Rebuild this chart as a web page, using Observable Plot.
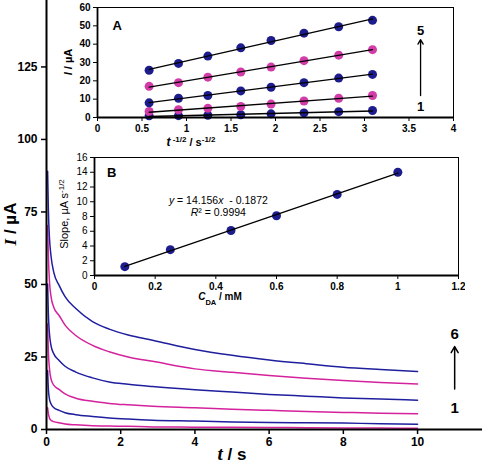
<!DOCTYPE html>
<html><head><meta charset="utf-8">
<script src="https://cdn.jsdelivr.net/npm/d3@7"></script>
<script src="https://cdn.jsdelivr.net/npm/@observablehq/plot@0.6"></script>
<style>
body{margin:0;background:#fff;font-family:Arial,"Liberation Sans",sans-serif;}
#wrap{position:relative;width:482px;height:463px;overflow:hidden;background:#fff;}
#wrap svg{position:absolute;background:transparent;}
</style></head><body><div id="wrap"></div>
<script>
// ---------- Main chronoamperograms ----------
const tMain = [0.03,0.05,0.08,0.12,0.2,0.34,0.5,0.79,1.24,1.69,2.2,2.86,4,5,6,7,8,9,10];
const curve1 = [7.5,5.5,4.0,3.2,2.7,2.3,1.9,1.6,1.3,1.2,1.1,0.9,0.8,0.75,0.7,0.6,0.55,0.5,0.45];
const curve2 = [20.3,14,10.5,8.9,7.5,6.6,5.8,5.1,4.5,4.0,3.6,3.2,2.9,2.6,2.4,2.3,2.2,2.0,1.8];
const curve3 = [36.4,27,21,17.5,15.2,13.8,12.3,10.8,9.7,9.0,8.5,8.0,7.5,7.0,6.6,6.2,5.9,5.6,5.4];
const curve4 = [50.2,40,33,29,26,23.8,21.8,19.8,17.8,16.4,15.6,14.8,13.7,12.9,12.1,11.5,10.9,10.5,10.1];
const curve5 = [70.3,60,51,46,42,39.3,36,32.4,29,26.8,25,23.5,20.9,19.7,18.6,17.7,16.9,16.2,15.7];
const curve6 = [89,76,66,60,54,49.7,45.8,41.7,37.2,34.6,32.6,30.8,27.6,25.6,24.0,22.7,21.5,20.7,20.0];
const mainNames = ["1","2","3","4","5","6"];
const mainColors = ["#d4229c","#1f1f9e","#d4229c","#1f1f9e","#d4229c","#1f1f9e"];
const mainXTicks = [0,2,4,6,8,10];
const mainYTicks = [0,25,50,75,100,125];
const mainAnnot = [{x:11, y:33, label:"6"},{x:11, y:7.3, label:"1"}];
const mainArrow = [{x:11, y1:14, y2:28.6}];

// ---------- Inset A ----------
const xA = [0.58,0.91,1.24,1.61,1.95,2.32,2.71,3.09];
const seriesA1 = [0.9,1.0,1.2,1.5,2.0,2.5,3.2,3.8];
const seriesA2 = [3.3,4.2,5.0,6.0,7.3,9.0,10.5,12.0];
const seriesA3 = [8.0,10.5,12.0,14.5,16.5,19.0,21.5,23.5];
const seriesA4 = [17.0,19.0,22.0,24.8,27.5,31.0,34.0,37.0];
const seriesA5 = [25.8,29.5,33.5,38.0,42.0,46.0,49.5,53.0];
const namesA = ["1","2","3","4","5"];
const colorsA = ["#1c1c8c","#d23ca8","#1c1c8c","#d23ca8","#1c1c8c"];
const xTicksA = [0,0.5,1,1.5,2,2.5,3,3.5,4];
const yTicksA = [0,10,20,30,40,50,60];
const annotA = [{x:3.63, y:47.5, label:"5"},{x:3.63, y:5.8, label:"1"}];
const arrowA = [{x:3.63, y1:12, y2:42.5}];

// ---------- Inset B ----------
const concB = [0.1,0.25,0.45,0.6,0.8,1.0];
const slopeB = [1.2,3.5,6.1,8.1,11.0,14.0];
const xTicksB = [0,0.2,0.4,0.6,0.8,1,1.2];
const yTicksB = [0,2,4,6,8,10,12,14,16];

const wrap = document.getElementById("wrap");

function addText(svg, x, y, parts, o = {}) {
  const t = d3.select(svg).append("text")
    .attr("x", x).attr("y", y)
    .attr("text-anchor", o.anchor || "middle")
    .attr("font-family", o.family || "Arial, 'Liberation Sans', sans-serif")
    .attr("font-size", o.size || 12)
    .attr("font-weight", o.weight || "normal")
    .attr("fill", "#000");
  if (o.rotate) t.attr("transform", `rotate(-90 ${x} ${y})`);
  for (const p of parts) {
    const s = t.append("tspan").text(p.text);
    if (p.italic) s.attr("font-style", "italic");
    if (p.family) s.attr("font-family", p.family);
    if (p.size) s.attr("font-size", p.size);
    if (p.weight) s.attr("font-weight", p.weight);
    if (p.sup) s.attr("baseline-shift", "super");
    if (p.sub) s.attr("baseline-shift", "sub");
  }
  return t;
}

// ---------- Main plot ----------
const mainRows = [];
[curve1,curve2,curve3,curve4,curve5,curve6].forEach((s,k) =>
  tMain.forEach((t,i) => mainRows.push({t, I: s[i], curve: mainNames[k]})));

const main = Plot.plot({
  width: 482, height: 463,
  marginLeft: 46, marginTop: 0, marginRight: 0, marginBottom: 34,
  style: {background: "transparent", fontFamily: "Arial, 'Liberation Sans', sans-serif", fontSize: "12px", fontWeight: "bold", color: "#000"},
  x: {domain: [0, 11.75]},
  y: {domain: [0, 147.9]},
  color: {domain: mainNames, range: mainColors},
  marks: [
    Plot.line(mainRows, {x: "t", y: "I", z: "curve", stroke: "curve", strokeWidth: 1.5, curve: "monotone-x"}),
    Plot.axisX({ticks: mainXTicks, tickSize: 5, tickPadding: 3, label: null, tickFormat: d => String(d), strokeWidth: 1.5}),
    Plot.axisY({ticks: mainYTicks, tickSize: 5, tickPadding: 4, label: null, tickFormat: d => String(d), strokeWidth: 1.5}),
    Plot.ruleX([0], {strokeWidth: 2}),
    Plot.ruleY([0], {strokeWidth: 2}),
    Plot.arrow(mainArrow, {x: "x", y1: "y1", y2: "y2", x1: "x", x2: "x", strokeWidth: 1.5, headLength: 7}),
    Plot.text(mainAnnot, {x: "x", y: "y", text: "label", fontSize: 15, fontWeight: "bold"})
  ]
});
wrap.appendChild(main);
main.style.left = "0px"; main.style.top = "0px";
addText(main, 16, 224, [{text: "I", italic: true, family: "'Liberation Serif', 'DejaVu Serif', serif"}, {text: " / µA"}], {rotate: true, size: 17, weight: "bold"});
addText(main, 232, 460, [{text: "t", italic: true, family: "'Liberation Serif', 'DejaVu Serif', serif", size: 19}, {text: " / s"}], {size: 17, weight: "bold"});

// ---------- Inset A ----------
const rowsA = [];
[seriesA1,seriesA2,seriesA3,seriesA4,seriesA5].forEach((s,k) =>
  xA.forEach((x,i) => rowsA.push({x, I: s[i], series: namesA[k]})));

const insA = Plot.plot({
  width: 400, height: 150,
  marginLeft: 37, marginTop: 7, marginRight: 7, marginBottom: 33,
  style: {background: "transparent", fontFamily: "Arial, 'Liberation Sans', sans-serif", fontSize: "10px", fontWeight: "bold", color: "#000"},
  x: {domain: [0, 4]},
  y: {domain: [0, 60]},
  color: {domain: namesA, range: colorsA},
  marks: [
    Plot.frame({stroke: "#000", strokeWidth: 1}),
    Plot.dot(rowsA, {x: "x", y: "I", fill: "series", r: 4.5}),
    Plot.linearRegressionY(rowsA, {x: "x", y: "I", z: "series", stroke: "#000", strokeWidth: 1.3, ci: 0}),
    Plot.axisX({ticks: xTicksA, tickSize: 4, tickPadding: 3, label: null, tickFormat: d => String(d)}),
    Plot.axisY({ticks: yTicksA, tickSize: 4, tickPadding: 3, label: null, tickFormat: d => String(d)}),
    Plot.ruleX([0], {strokeWidth: 1.8}),
    Plot.ruleY([0], {strokeWidth: 1.8}),
    Plot.arrow(arrowA, {x1: "x", x2: "x", y1: "y1", y2: "y2", strokeWidth: 1.3, headLength: 6}),
    Plot.text(annotA, {x: "x", y: "y", text: "label", fontSize: 13, fontWeight: "bold"}),
    Plot.text(["A"], {x: 0.22, y: 50.2, text: d => d, fontSize: 13, fontWeight: "bold"})
  ]
});
wrap.appendChild(insA);
insA.style.left = "60px"; insA.style.top = "0px";
addText(insA, 12, 62, [{text: "I", italic: true}, {text: " / µA"}], {rotate: true, size: 11, weight: "bold"});
addText(insA, 131, 146, [{text: "t", italic: true, size: 12}, {text: " -1/2", sup: true, size: 8}, {text: " / s"}, {text: "-1/2", sup: true, size: 8}], {size: 11, weight: "bold"});

// ---------- Inset B ----------
const rowsB = concB.map((c,i) => ({c, s: slopeB[i]}));
const insB = Plot.plot({
  width: 410, height: 160,
  marginLeft: 39, marginTop: 7, marginRight: 7, marginBottom: 35,
  style: {background: "transparent", fontFamily: "Arial, 'Liberation Sans', sans-serif", fontSize: "10px", color: "#000"},
  x: {domain: [0, 1.2]},
  y: {domain: [0, 16]},
  marks: [
    Plot.frame({stroke: "#000", strokeWidth: 1}),
    Plot.dot(rowsB, {x: "c", y: "s", fill: "#1c1c8c", r: 4.5}),
    Plot.linearRegressionY(rowsB, {x: "c", y: "s", stroke: "#000", strokeWidth: 1.3, ci: 0}),
    Plot.axisX({ticks: xTicksB, tickSize: 4, tickPadding: 3, label: null, tickFormat: d => String(d), fontWeight: "bold"}),
    Plot.axisY({ticks: yTicksB, tickSize: 4, tickPadding: 3, label: null, tickFormat: d => String(d)}),
    Plot.ruleX([0], {strokeWidth: 1.8}),
    Plot.ruleY([0], {strokeWidth: 1.8}),
    Plot.text(["B"], {x: 0.057, y: 13.9, text: d => d, fontSize: 13, fontWeight: "bold"})
  ]
});
wrap.appendChild(insB);
insB.style.left = "55px"; insB.style.top = "150px";
const sxB = insB.scale("x"), syB = insB.scale("y");
addText(insB, sxB.apply(0.41), syB.apply(9.6), [{text: "y", italic: true}, {text: " = 14.156"}, {text: "x", italic: true}, {text: "  - 0.1872"}], {size: 10.5});
addText(insB, sxB.apply(0.41), syB.apply(8.0), [{text: "R", italic: true}, {text: "²"}, {text: " = 0.9994"}], {size: 10.5});
addText(insB, 13, 64, [{text: "Slope, µA s"}, {text: "-1/2", sup: true, size: 8}], {rotate: true, size: 11});
addText(insB, 165, 150, [{text: "C", italic: true}, {text: "DA", sub: true, size: 7.5}, {text: " / mM"}], {size: 10, weight: "bold"});
</script>
</body></html>
